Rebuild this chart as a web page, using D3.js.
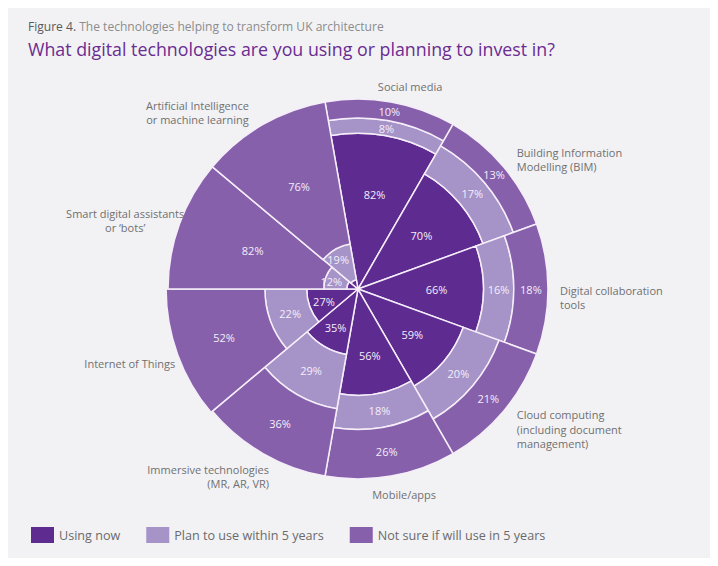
<!DOCTYPE html>
<html><head><meta charset="utf-8">
<script src="https://cdn.jsdelivr.net/npm/d3@7"></script>
<style>body{margin:0;background:#fff} svg{display:block} text{font-family:"Open Sans",sans-serif}</style>
</head><body><svg id="c" width="718" height="566"></svg>
<script>
const categories = ["Social media","BIM","Digital collaboration tools","Cloud computing","Mobile/apps","Immersive technologies","Internet of Things","Smart digital assistants","Artificial Intelligence"];
const categoryLines = [
  ["Social media"],
  ["Building Information","Modelling (BIM)"],
  ["Digital collaboration","tools"],
  ["Cloud computing","(including document","management)"],
  ["Mobile/apps"],
  ["Immersive technologies","(MR, AR, VR)"],
  ["Internet of Things"],
  ["Smart digital assistants","or \u2018bots\u2019"],
  ["Artificial Intelligence","or machine learning"]
];
const usingNow  = [82,70,66,59,56,35,27,6,5];
const planToUse = [8,17,16,20,18,29,22,12,19];
const notSure   = [10,13,18,21,26,36,52,82,76];
const seriesNames = ["Using now","Plan to use within 5 years","Not sure if will use in 5 years"];
const colors = ["#5e2b91","#a694c9","#8660ab"];

// layout nudges for the category labels (dx, dy in px)
const labelNudge = [[17,5],[4,1],[0,9],[4,11],[11,1],[12,13],[7,6],[16,1],[-8,-1]];

const svg = d3.select("#c");
svg.append("rect").attr("x",8).attr("y",8).attr("width",702).attr("height",550).attr("fill","#f2f2f5");

function fitText(sel, target){
  const fs = parseFloat(sel.attr("font-size"));
  const w = sel.node().getComputedTextLength();
  sel.attr("font-size", fs*target/w);
}
const t1 = svg.append("text").attr("x",28).attr("y",31).attr("font-size",12.5);
t1.append("tspan").attr("fill","#5a5a5a").text("Figure 4.");
t1.append("tspan").attr("fill","#8c8c8c").text(" The technologies helping to transform UK architecture");
fitText(t1, 356);
const t2 = svg.append("text").attr("x",28).attr("y",56).attr("font-size",20).attr("fill","#6a2c91")
  .text("What digital technologies are you using or planning to invest in?");
fitText(t2, 527);

const cx = 358, cy = 289, R = 190;
const g = svg.append("g").attr("transform",`translate(${cx},${cy})`);
const toRad = d => d*Math.PI/180;
const x = d3.scaleBand().domain(categories).range([toRad(-10), toRad(350)]).paddingInner(0).paddingOuter(0);
const y = d3.scaleLinear().domain([0,100]).range([0,R]);

const table = categories.map((c,i)=>({cat:c, s0:usingNow[i], s1:planToUse[i], s2:notSure[i]}));
const stacked = d3.stack().keys(["s0","s1","s2"])(table);

const arc = d3.arc()
  .innerRadius(d=>y(d[0])).outerRadius(d=>y(d[1]))
  .startAngle(d=>x(d.data.cat)).endAngle(d=>x(d.data.cat)+x.bandwidth());

stacked.forEach((layer,li)=>{
  g.append("g").selectAll("path").data(layer).join("path")
    .attr("d",arc).attr("fill",colors[li])
    .attr("stroke","#f5eef9").attr("stroke-width",1.5).attr("stroke-linejoin","round");
});

// value labels
stacked.forEach((layer,li)=>{
  layer.forEach(d=>{
    const v = d[1]-d[0];
    if (v < 8) return;
    let a = x(d.data.cat)+x.bandwidth()/2;
    const r0 = y(d[0]), r1 = y(d[1]);
    let r;
    if (li===0) r = 0.57*r1 + 7;
    else if (r0 < 20) { r = r0 + 0.72*(r1-r0); a -= toRad(4); }
    else r = (r0+r1)/2;
    g.append("text").attr("x", r*Math.sin(a)).attr("y", -r*Math.cos(a))
      .attr("text-anchor","middle").attr("dominant-baseline","central")
      .attr("font-size",11).attr("fill","#f4eefa").text(v+"%");
  });
});

// category labels
const lineH = 14.5;
categories.forEach((c,i)=>{
  const a = x(c)+x.bandwidth()/2;
  const r = R+12;
  const px = r*Math.sin(a) + labelNudge[i][0], py0 = -r*Math.cos(a);
  const s = Math.sin(a), co = Math.cos(a);
  const lines = categoryLines[i];
  const n = lines.length;
  const grp = g.append("g");
  let yStart;
  if (Math.abs(s) < 0.3) yStart = co > 0 ? py0 - (n-1)*lineH - 4 : py0 + 10;
  else yStart = py0 - (n-1)*lineH/2 + 4;
  yStart += labelNudge[i][1];
  const texts = lines.map((ln,k)=> grp.append("text").attr("y", yStart + k*lineH)
      .attr("font-size",11).attr("fill","#707070").text(ln));
  if (Math.abs(s) < 0.3){
    texts.forEach(t=>t.attr("x",px).attr("text-anchor","middle"));
  } else if (s > 0){
    texts.forEach(t=>t.attr("x",px).attr("text-anchor","start"));
  } else if (co > 0){
    const bw = d3.max(texts, t=>t.node().getComputedTextLength());
    texts.forEach(t=>t.attr("x",px - bw/2).attr("text-anchor","middle"));
  } else {
    texts.forEach(t=>t.attr("x",px).attr("text-anchor","end"));
  }
});

// legend
let lx = 31;
seriesNames.forEach((nm,i)=>{
  svg.append("rect").attr("x",lx).attr("y",527).attr("width",23).attr("height",16).attr("fill",colors[i]);
  const t = svg.append("text").attr("x",lx+28).attr("y",540).attr("font-size",12.6).attr("fill","#6a6a6a").text(nm);
  lx = lx + 28 + t.node().getComputedTextLength() + 26;
});
</script></body></html>
